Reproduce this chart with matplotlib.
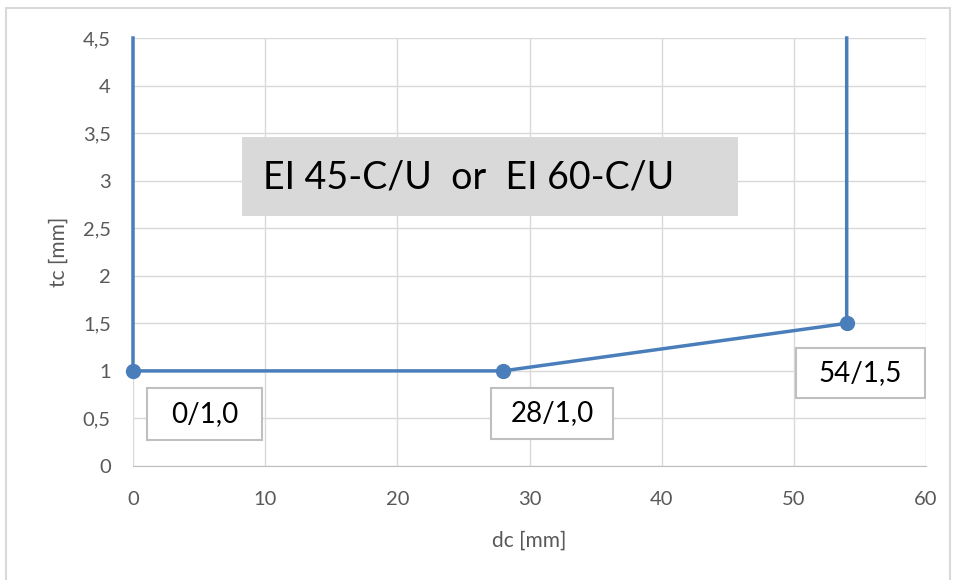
import matplotlib.pyplot as plt
from matplotlib.patches import Rectangle
from matplotlib.ticker import FuncFormatter

# limit curve tc over dc
dc = [0, 0, 28, 54, 54]
tc = [4.5, 1.0, 1.0, 1.5, 4.5]
# corner points that carry a marker and a label
pt_dc = [0, 28, 54]
pt_tc = [1.0, 1.0, 1.5]
pt_labels = ["0/1,0", "28/1,0", "54/1,5"]
title_text = "EI 45-C/U  or  EI 60-C/U"

plt.rcParams['font.family'] = ['Lato', 'DejaVu Sans']

W, H = 955, 580
fig = plt.figure(figsize=(W / 100, H / 100), dpi=100)

def fx(px):
    return px / W

def fy(py):
    return 1 - py / H

ax = fig.add_axes([fx(133), fy(466), fx(926) - fx(133), fy(38) - fy(466)])

blue = '#4a7ebb'
ax.plot(dc, tc, color=blue, lw=2.5, zorder=4, clip_on=False)
ax.plot(pt_dc, pt_tc, 'o', color=blue, ms=10, zorder=5, clip_on=False)

ax.set_xlim(0, 60)
ax.set_ylim(0, 4.5)
ax.set_xticks(range(0, 61, 10))
ax.set_yticks([i * 0.5 for i in range(10)])
comma = FuncFormatter(lambda v, p: ('%g' % v).replace('.', ','))
ax.yaxis.set_major_formatter(comma)
ax.grid(True, color='#d9d9d9', lw=1)
ax.set_axisbelow(True)
for s in ['top', 'right', 'left']:
    ax.spines[s].set_visible(False)
ax.spines['bottom'].set_color('#bfbfbf')
ax.tick_params(length=0, labelsize=14.5, colors='#595959')
ax.tick_params(axis='x', pad=18)
ax.tick_params(axis='y', pad=16)
ax.set_xlabel('dc [mm]', fontsize=15, color='#595959', labelpad=16)
ax.set_ylabel('tc [mm]', fontsize=15, color='#595959', labelpad=10)

# point label boxes (pixel boxes: x0, y0, x1, y1)
boxes = [(147, 388, 262, 440), (491, 388, 613, 439), (796, 348, 925, 398)]
for (x0, y0, x1, y1), lab in zip(boxes, pt_labels):
    fig.patches.append(Rectangle((fx(x0), fy(y1)), fx(x1) - fx(x0), fy(y0) - fy(y1),
                                 transform=fig.transFigure, facecolor='white',
                                 edgecolor='#bfbfbf', lw=1.5, zorder=6))
    fig.text(fx((x0 + x1) / 2), fy((y0 + y1) / 2), lab, fontsize=20, color='black',
             ha='center', va='center', zorder=7)

# title box
fig.patches.append(Rectangle((fx(242), fy(216)), fx(738) - fx(242), fy(137) - fy(216),
                             transform=fig.transFigure, facecolor='#d9d9d9',
                             edgecolor='none', zorder=6))
fig.text(fx(263), fy(177), title_text, fontsize=27, color='black',
         ha='left', va='center', zorder=7)

# chart border (bottom edge runs off the picture)
fig.patches.append(Rectangle((fx(6), fy(590)), fx(950) - fx(6), fy(8) - fy(590),
                             transform=fig.transFigure, facecolor='none',
                             edgecolor='#d9d9d9', lw=1.5))

fig.savefig('out.png', dpi=100)
